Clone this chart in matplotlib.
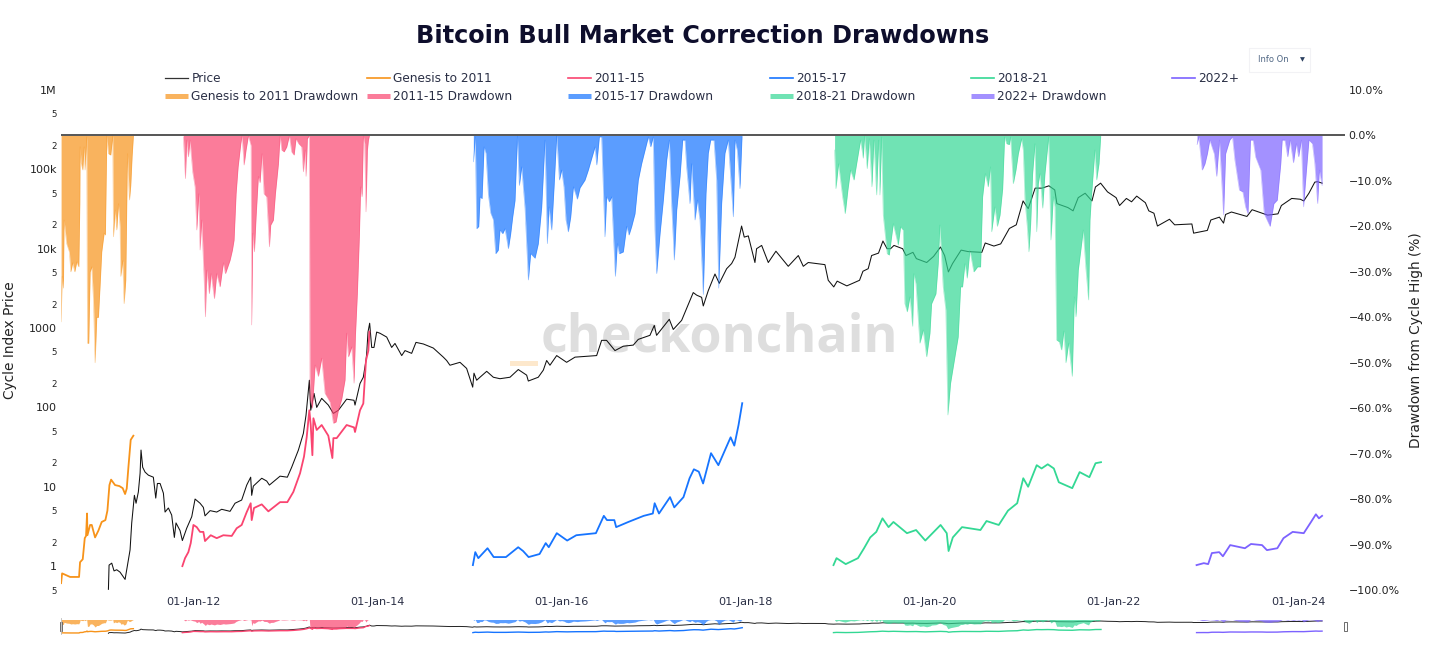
import matplotlib
matplotlib.use("Agg")
import matplotlib.pyplot as plt
from matplotlib.lines import Line2D
from matplotlib.patches import Rectangle

W, H = 1430, 672

# dates are decimal years, prices in index units, drawdowns in %
price_dates = [2011.081, 2011.088, 2011.117, 2011.142, 2011.171, 2011.207, 2011.262, 2011.298, 2011.316, 2011.334, 2011.363, 2011.381, 2011.406, 2011.425, 2011.435, 2011.453, 2011.479, 2011.515, 2011.569, 2011.595, 2011.613, 2011.642, 2011.678, 2011.696, 2011.732, 2011.768, 2011.797, 2011.815, 2011.859, 2011.884, 2011.931, 2011.986,
               2012.022, 2012.076, 2012.112, 2012.130, 2012.185, 2012.257, 2012.311, 2012.402, 2012.456, 2012.528, 2012.583, 2012.626, 2012.637, 2012.655, 2012.746, 2012.800, 2012.829, 2012.945,
               2013.024, 2013.071, 2013.144, 2013.198, 2013.227, 2013.263, 2013.278, 2013.314, 2013.343, 2013.397, 2013.469, 2013.524, 2013.578, 2013.668, 2013.748, 2013.759, 2013.813, 2013.849, 2013.878, 2013.886, 2013.900, 2013.918, 2013.940, 2013.965, 2013.994,
               2014.030, 2014.103, 2014.157, 2014.193, 2014.266, 2014.302, 2014.374, 2014.421, 2014.501, 2014.609, 2014.718, 2014.754, 2014.790, 2014.899, 2014.971,
               2015.037, 2015.051, 2015.080, 2015.116, 2015.189, 2015.261, 2015.333, 2015.442, 2015.532, 2015.623, 2015.641, 2015.749, 2015.804, 2015.840, 2015.876, 2015.949,
               2016.057, 2016.148, 2016.383, 2016.437, 2016.491, 2016.582, 2016.672, 2016.781, 2016.835, 2016.962,
               2017.009, 2017.034, 2017.172, 2017.215, 2017.306, 2017.360, 2017.432, 2017.469, 2017.523, 2017.541, 2017.595, 2017.668, 2017.715, 2017.795, 2017.849, 2017.885, 2017.957, 2017.986,
               2018.030, 2018.102, 2018.120, 2018.175, 2018.247, 2018.330, 2018.464, 2018.573, 2018.627, 2018.681, 2018.862, 2018.898, 2018.958, 2018.995,
               2019.100, 2019.238, 2019.275, 2019.332, 2019.369, 2019.444, 2019.492, 2019.537, 2019.575, 2019.612, 2019.706, 2019.743, 2019.818, 2019.855, 2019.967,
               2020.042, 2020.117, 2020.162, 2020.203, 2020.248, 2020.341, 2020.416, 2020.566, 2020.603, 2020.697, 2020.771, 2020.865, 2020.940,
               2021.014, 2021.070, 2021.145, 2021.220, 2021.295, 2021.358, 2021.381, 2021.501, 2021.557, 2021.613, 2021.688, 2021.762, 2021.800, 2021.856, 2021.931,
               2022.024, 2022.062, 2022.136, 2022.192, 2022.248, 2022.342, 2022.379, 2022.435, 2022.473, 2022.604, 2022.660, 2022.847, 2022.866,
               2023.015, 2023.053, 2023.146, 2023.191, 2023.213, 2023.277, 2023.445, 2023.501, 2023.670, 2023.782, 2023.819, 2023.931,
               2024.025, 2024.062, 2024.118, 2024.182, 2024.212, 2024.261]
price_values = [0.51, 1.03, 1.09, 0.87, 0.9, 0.84, 0.68, 1.19, 1.6, 3.5, 7.8, 6.2, 8.6, 14.8, 29, 17.6, 15.3, 14, 13.2, 7.2, 11, 11, 8.3, 4.8, 5.4, 4.4, 2.3, 3.5, 2.8, 2.1, 3, 4.2,
                7, 6.2, 5.5, 4.3, 5, 4.8, 5.2, 4.9, 6.2, 6.8, 10.5, 13.2, 7.8, 10.2, 12.8, 11.8, 10.5, 13.6,
                13.2, 17.6, 29, 47, 80, 220, 92, 150, 100, 130, 107, 84, 92, 127, 123, 107, 200, 240, 390, 480, 890, 1150, 570, 570, 890,
                860, 770, 570, 640, 450, 520, 480, 660, 630, 560, 430, 390, 340, 370, 310,
                180, 270, 220, 240, 285, 240, 230, 240, 300, 255, 215, 240, 295, 390, 340, 450,
                370, 430, 450, 700, 700, 520, 590, 610, 720, 810,
                1080, 810, 1290, 960, 1250, 1760, 2800, 2600, 2440, 1900, 2960, 4800, 3660, 5600, 6500, 7800, 19300, 14000,
                14500, 6700, 10000, 11000, 6700, 9300, 6000, 8200, 6000, 6700, 6300, 4000, 3300, 3900,
                3400, 4000, 5200, 5600, 8200, 8800, 12500, 10000, 10000, 11000, 10000, 8200, 9000, 7500, 6700,
                8000, 10500, 8200, 5100, 6500, 9600, 9200, 9000, 11800, 10800, 11500, 18000, 20000,
                40000, 32000, 58000, 58000, 62000, 55000, 37000, 33000, 30000, 44000, 50000, 40000, 60000, 67000, 52000,
                44000, 35000, 43000, 39000, 46000, 38000, 30000, 28000, 19300, 23500, 20000, 20500, 15700,
                17000, 23000, 25000, 21000, 27000, 29000, 25500, 31000, 26500, 27500, 35000, 43000,
                42000, 40000, 50000, 69000, 70000, 67000]

genesis_dates = [2010.567, 2010.578, 2010.610, 2010.665, 2010.762, 2010.773, 2010.802, 2010.824, 2010.838, 2010.849, 2010.853, 2010.882, 2010.900, 2010.936, 2010.972, 2011.008, 2011.048, 2011.070, 2011.092, 2011.110, 2011.153, 2011.200, 2011.236, 2011.262, 2011.280, 2011.298, 2011.323, 2011.352]
genesis_values = [0.61, 0.81, 0.78, 0.73, 0.73, 1.12, 1.22, 2.25, 2.4, 4.6, 2.45, 3.3, 3.3, 2.3, 2.8, 3.6, 3.8, 5, 10.5, 12.3, 10.5, 10.2, 9.6, 8.1, 9.5, 17.6, 39, 44]

c1115_dates = [2011.884, 2011.913, 2011.949, 2011.975, 2012.004, 2012.040, 2012.076, 2012.112, 2012.130, 2012.192, 2012.257, 2012.329, 2012.420, 2012.474, 2012.528, 2012.583, 2012.626, 2012.637, 2012.662, 2012.746, 2012.818, 2012.945, 2013.024, 2013.089, 2013.162, 2013.205, 2013.234, 2013.263, 2013.278, 2013.296, 2013.307, 2013.343, 2013.397, 2013.469, 2013.513, 2013.524, 2013.560, 2013.668, 2013.748, 2013.759, 2013.813, 2013.849, 2013.878, 2013.904, 2013.915]
c1115_values = [1, 1.26, 1.5, 1.95, 3.3, 3.1, 2.7, 2.7, 2.07, 2.45, 2.25, 2.45, 2.4, 3, 3.3, 4.8, 6.2, 3.8, 5.4, 6, 4.9, 6.4, 6.4, 8.6, 14.8, 24, 42, 92, 60, 25, 73, 52, 60, 44, 23, 41, 41, 60, 56, 49, 92, 112, 390, 520, 900]

c1517_dates = [2015.039, 2015.065, 2015.098, 2015.198, 2015.265, 2015.398, 2015.531, 2015.584, 2015.644, 2015.763, 2015.830, 2015.863, 2015.950, 2016.063, 2016.162, 2016.375, 2016.461, 2016.495, 2016.575, 2016.595, 2016.727, 2016.894, 2016.993, 2017.013, 2017.060, 2017.180, 2017.226, 2017.326, 2017.392, 2017.439, 2017.492, 2017.539, 2017.625, 2017.705, 2017.791, 2017.838, 2017.878, 2017.924, 2017.964]
c1517_values = [1.03, 1.5, 1.26, 1.68, 1.3, 1.3, 1.73, 1.55, 1.3, 1.42, 1.95, 1.73, 2.6, 2.1, 2.45, 2.6, 4.3, 3.8, 3.8, 3.1, 3.6, 4.3, 4.6, 6.2, 4.6, 7.4, 5.5, 7.4, 12.8, 16.6, 15.5, 11, 26.5, 18.7, 31.6, 42, 33, 60, 113]

c1821_dates = [2018.955, 2018.988, 2019.088, 2019.221, 2019.287, 2019.354, 2019.420, 2019.487, 2019.553, 2019.606, 2019.753, 2019.852, 2019.952, 2020.118, 2020.185, 2020.205, 2020.251, 2020.351, 2020.551, 2020.617, 2020.750, 2020.850, 2020.950, 2021.016, 2021.069, 2021.162, 2021.215, 2021.282, 2021.348, 2021.402, 2021.548, 2021.628, 2021.734, 2021.801, 2021.860]
c1821_values = [1.03, 1.26, 1.06, 1.26, 1.68, 2.3, 2.7, 4, 3.1, 3.6, 2.6, 2.85, 2.1, 3.3, 2.6, 1.55, 2.3, 3.1, 2.85, 3.7, 3.3, 5, 6.2, 12.8, 10, 18.7, 17, 19.2, 17, 11.4, 9.6, 15.3, 13.2, 19.8, 20.4]

c2022_dates = [2022.898, 2022.977, 2023.024, 2023.064, 2023.144, 2023.184, 2023.263, 2023.423, 2023.489, 2023.609, 2023.662, 2023.775, 2023.842, 2023.942, 2024.062, 2024.141, 2024.194, 2024.227, 2024.261]
c2022_values = [1.03, 1.09, 1.06, 1.46, 1.5, 1.33, 1.84, 1.68, 1.9, 1.84, 1.59, 1.68, 2.25, 2.7, 2.6, 3.6, 4.5, 4, 4.3]

dd_genesis_dates = [2010.567, 2010.578, 2010.592, 2010.599, 2010.628, 2010.657, 2010.672, 2010.693, 2010.715, 2010.737, 2010.759, 2010.770, 2010.773, 2010.784, 2010.802, 2010.817, 2010.827, 2010.845, 2010.853, 2010.867, 2010.882, 2010.900, 2010.918, 2010.936, 2010.954, 2010.972, 2010.990, 2011.008, 2011.034, 2011.048, 2011.063, 2011.081, 2011.106, 2011.128, 2011.135, 2011.153, 2011.171, 2011.189, 2011.207, 2011.215, 2011.236, 2011.251, 2011.269, 2011.287, 2011.309, 2011.323, 2011.338, 2011.352]
dd_genesis_values = [-41, -31, -33.6, -18.6, -23.8, -25.6, -30, -28, -30, -27.8, -28.9, -15, -2.5, -6, -7.6, -2.5, -7.6, -0.3, -45.7, -45.7, -30, -28.9, -36, -50, -40, -40, -33, -25.6, -21.5, -21.9, 0, -4, -4.3, 0, -22.3, -16.4, -20.8, -15, -20, -31, -27.5, -37, -31.8, -4, -14.2, -11, -4.5, 0]

dd_1115_dates = [2011.895, 2011.917, 2011.931, 2011.949, 2011.967, 2011.996, 2012.022, 2012.040, 2012.062, 2012.076, 2012.094, 2012.119, 2012.134, 2012.148, 2012.177, 2012.195, 2012.232, 2012.257, 2012.293, 2012.329, 2012.351, 2012.402, 2012.427, 2012.445, 2012.467, 2012.489, 2012.518, 2012.532, 2012.554, 2012.575, 2012.601, 2012.630, 2012.637, 2012.648, 2012.666, 2012.684, 2012.709, 2012.727, 2012.749, 2012.771, 2012.800, 2012.829, 2012.843, 2012.872, 2012.894, 2012.927, 2012.945, 2012.963, 2012.988,
                 2013.017, 2013.046, 2013.071, 2013.097, 2013.118, 2013.147, 2013.180, 2013.198, 2013.216, 2013.227, 2013.241, 2013.263, 2013.270, 2013.296, 2013.325, 2013.361, 2013.397, 2013.433, 2013.487, 2013.524, 2013.553, 2013.578, 2013.614, 2013.650, 2013.668, 2013.687, 2013.723, 2013.748, 2013.763, 2013.784, 2013.806, 2013.820, 2013.835, 2013.849, 2013.864, 2013.878, 2013.893, 2013.904, 2013.915]
dd_1115_values = [-0.3, -9.5, -1, -4.7, -1, -8, -11.3, -20.8, -12.8, -25.2, -18.6, -31, -39.9, -29.6, -34.8, -30.4, -35.9, -30.4, -33.3, -28, -30.4, -27.4, -25.2, -23, -12.8, -6.9, -1.8, 0, -6.5, -3.2, 0, -2.2, -41.7, -21.5, -25.6, -17.9, -9, -10.4, -4, -12.8, -13.5, -24.5, -19.7, -18.6, -12.8, -6.2, 0, -3.2, -3.6,
                  -2.5, 0, -3.6, -4.3, -0.7, -1.8, -2.5, -8, -3.2, -9, -0.7, 0, -58, -60, -50.5, -53, -49, -56.7, -58.6, -63.3, -63, -60.4, -58, -53.8, -43.5, -48.7, -46.5, -54.5, -44, -34.8, -22, -11.3, -13.5, 0, -1.8, -16.8, -3.2, -1, 0]

dd_1517_dates = [2015.044, 2015.065, 2015.080, 2015.102, 2015.116, 2015.138, 2015.160, 2015.181, 2015.207, 2015.232, 2015.261, 2015.286, 2015.315, 2015.333, 2015.362, 2015.388, 2015.424, 2015.449, 2015.471, 2015.496, 2015.522, 2015.543, 2015.569, 2015.605, 2015.641, 2015.666, 2015.713, 2015.749, 2015.786, 2015.822, 2015.847, 2015.865, 2015.894, 2015.920, 2015.949, 2015.978,
                 2016.003, 2016.028, 2016.050, 2016.075, 2016.101, 2016.130, 2016.173, 2016.202, 2016.256, 2016.292, 2016.329, 2016.365, 2016.383, 2016.412, 2016.437, 2016.473, 2016.491, 2016.520, 2016.546, 2016.586, 2016.607, 2016.629, 2016.672, 2016.709, 2016.734, 2016.763, 2016.799, 2016.835, 2016.871, 2016.908, 2016.944, 2016.969, 2016.998,
                 2017.016, 2017.034, 2017.071, 2017.107, 2017.143, 2017.172, 2017.197, 2017.226, 2017.252, 2017.288, 2017.317, 2017.342, 2017.360, 2017.396, 2017.414, 2017.451, 2017.476, 2017.505, 2017.541, 2017.570, 2017.595, 2017.621, 2017.657, 2017.686, 2017.708, 2017.740, 2017.776, 2017.812, 2017.867, 2017.885, 2017.910, 2017.939, 2017.961]
dd_1517_values = [-5.8, -0.3, -20.5, -20, -13.5, -13.9, -2.5, -3.9, -13, -17, -18.5, -26, -25.2, -20.8, -21.6, -20.5, -24.9, -21.6, -17.9, -14.3, 0, -11, -6.9, -16, -31.8, -26, -27, -23.8, -15.7, -1, -23.8, -15.7, -20.8, -11.3, 0, -9.8,
                  -7.6, -11.3, -18.6, -21.2, -17.9, -11.3, -14, -11.5, -9.8, -7.6, -5, -2.5, -6.5, -0.3, -0.3, -22.3, -13.5, -14.6, -13.5, -31, -23.8, -26, -25.6, -20, -21.9, -20, -17.2, -9.8, -6.2, -3.2, -0.3, -2.5, -0.3,
                  -20.8, -30.4, -21.6, -14.2, -5.4, -1, -14.9, -27.4, -16.4, -9, -1, -1, -6.9, -15, -6.2, -18.6, -14.2, -18.6, -35, -12.8, -3.9, -1, -1, -9.8, -33.6, -15, -3.9, -1, -17.9, -1, -3.2, -11.7, -0.3]

dd_1821_dates = [2018.967, 2018.981, 2019.010, 2019.054, 2019.082, 2019.111, 2019.140, 2019.177, 2019.206, 2019.249,
                 2019.278, 2019.292, 2019.321, 2019.343, 2019.372, 2019.394, 2019.423, 2019.444, 2019.459, 2019.477,
                 2019.495, 2019.538, 2019.560, 2019.604, 2019.658, 2019.683, 2019.712, 2019.730, 2019.756, 2019.785,
                 2019.814, 2019.828, 2019.850, 2019.893, 2019.929, 2019.966, 2020.002, 2020.020, 2020.067, 2020.092,
                 2020.110, 2020.146, 2020.175, 2020.197, 2020.226, 2020.273, 2020.309, 2020.335, 2020.356, 2020.382,
                 2020.407, 2020.436, 2020.479, 2020.519, 2020.552, 2020.574, 2020.603, 2020.635, 2020.660, 2020.672,
                 2020.708, 2020.734, 2020.763, 2020.792, 2020.813, 2020.835, 2020.864, 2020.878, 2020.907, 2020.936,
                 2020.962, 2020.998, 2021.016, 2021.034, 2021.059, 2021.077, 2021.096, 2021.117, 2021.143, 2021.161,
                 2021.179, 2021.197, 2021.226, 2021.251, 2021.277, 2021.291, 2021.316, 2021.342, 2021.360, 2021.378,
                 2021.407, 2021.432, 2021.457, 2021.479, 2021.508, 2021.548, 2021.570, 2021.588, 2021.613, 2021.638,
                 2021.667, 2021.696, 2021.725, 2021.740, 2021.758, 2021.794, 2021.812, 2021.838, 2021.856]
dd_1821_values = [-3.2, -11.7, -6.2, -13.5, -17.2, -12, -7.6, -9.8, -6.2, -1,
                  -5, 0, -7.3, -0.7, -11.3, -1, -13.1, -1, -13.1, -0.3,
                  -17.5, -26, -26.3, -19.4, -24.1, -20.1, -20.8, -37, -38.8, -35.5,
                  -42, -30.4, -32.6, -45.7, -42.8, -48.7, -43.5, -37, -34.8, -28.2,
                  -19.7, -33.3, -38.4, -61.5, -54.5, -48.7, -44.3, -33.3, -33.3, -28.2,
                  -31.4, -25.2, -30, -28.9, -28.9, -13.5, -8.4, -11.3, -6.9, -21.2,
                  -15.7, -20, -17.5, -11.7, -0.3, -1.8, -2, -0.3, -10.6, -7.6,
                  -4, -0.7, -3.2, -14.2, -20, -25.6, -19.4, -8.4, -1.8, -21.2,
                  -10.6, -8.4, -16, -8.4, -3.2, -0.3, -23, -13.5, -15.7, -45,
                  -45.4, -47.2, -43, -50, -45.7, -53, -35.5, -39.9, -29.6, -25.6,
                  -20.8, -29.3, -36.2, -18.6, -12.8, -3.2, -9.8, -6.2, -0.3]

dd_2022_dates = [2022.903, 2022.922, 2022.959, 2022.989, 2023.015, 2023.041, 2023.090, 2023.116, 2023.146, 2023.191, 2023.213, 2023.258, 2023.288, 2023.314, 2023.363, 2023.400, 2023.430, 2023.456, 2023.483, 2023.512, 2023.539, 2023.595, 2023.632, 2023.696, 2023.737, 2023.774, 2023.812, 2023.827, 2023.857, 2023.887, 2023.913, 2023.950, 2023.980, 2024.006, 2024.036, 2024.059, 2024.088, 2024.118, 2024.156, 2024.182, 2024.212, 2024.231, 2024.261]
dd_2022_values = [-2, -0.3, -7.6, -6.2, -4, -1, -4, -9, -1, -17.5, -4, -1, -0.3, -5.4, -12, -12.4, -15.7, -17.2, -1, -1, -4.7, -7.6, -17.2, -20, -15, -14.2, -6.2, -1, -1, -4.7, -1, -6, -1.8, -4.7, -1, -15.7, -8.3, -1, -1.8, -6.2, -15, -7.6, -11]

line_series = [("Genesis to 2011", genesis_dates, genesis_values, dd_genesis_dates, dd_genesis_values, "#F7931A"),
               ("2011-15", c1115_dates, c1115_values, dd_1115_dates, dd_1115_values, "#FA4470"),
               ("2015-17", c1517_dates, c1517_values, dd_1517_dates, dd_1517_values, "#1674FF"),
               ("2018-21", c1821_dates, c1821_values, dd_1821_dates, dd_1821_values, "#33D894"),
               ("2022+", c2022_dates, c2022_values, dd_2022_dates, dd_2022_values, "#7C62FF")]

price_ticks = [0.5, 1, 2, 5, 10, 20, 50, 100, 200, 500, 1000, 2000, 5000, 10000, 20000, 50000, 100000, 200000, 500000, 1000000]
price_labels = ["5", "1", "2", "5", "10", "2", "5", "100", "2", "5", "1000", "2", "5", "10k", "2", "5", "100k", "2", "5", "1M"]
dd_ticks = [10, 0, -10, -20, -30, -40, -50, -60, -70, -80, -90, -100]
dd_labels = ["10.0%", "0.0%", "\u221210.0%", "\u221220.0%", "\u221230.0%", "\u221240.0%", "\u221250.0%", "\u221260.0%", "\u221270.0%", "\u221280.0%", "\u221290.0%", "\u2212100.0%"]
date_ticks = [2012, 2014, 2016, 2018, 2020, 2022, 2024]
date_labels = ["01-Jan-12", "01-Jan-14", "01-Jan-16", "01-Jan-18", "01-Jan-20", "01-Jan-22", "01-Jan-24"]
x_range = (2010.566, 2024.51)


def fx(px):
    return px / W


def fy(py):
    return 1 - py / H


fig = plt.figure(figsize=(W / 100, H / 100), dpi=100, facecolor="white")

# watermark sits under everything, axes get a higher zorder below
fig.text(fx(719), fy(338), "checkonchain", family="Open Sans", weight="bold", fontsize=37.4,
         color="#DEDEDE", ha="center", va="center", zorder=0)
fig.add_artist(Rectangle((fx(510), fy(366)), 28 / W, 5 / H, transform=fig.transFigure, color="#FDE8CC", lw=0, zorder=0))

ax = fig.add_axes([fx(61), fy(590), 1284 / W, 500 / H], zorder=5)
ax.patch.set_visible(False)
ax.set_yscale("log")
ax.set_xlim(x_range)
ax.set_ylim(0.5, 1000000)
ax.plot(price_dates, price_values, color="#111111", lw=0.75)
for name, dates, values, dd_dates, dd_values, color in line_series:
    ax.plot(dates, values, color=color, lw=1.3)
ax.set_yticks(price_ticks, price_labels)
ax.minorticks_off()
ax.set_xticks(date_ticks, date_labels)
ax.tick_params(axis="x", length=0, pad=5, labelsize=8.1, labelcolor="#2A2F45")
ax.tick_params(axis="y", length=0, pad=3, labelcolor="#222222")
for lab in ax.get_yticklabels():
    if len(lab.get_text()) > 1 or lab.get_text() == "1":
        lab.set_fontsize(8)
    else:
        lab.set_fontsize(6.2)

for s in ax.spines.values():
    s.set_visible(False)

ax2 = ax.twinx()
ax2.set_zorder(6)
ax2.set_xlim(x_range)
ax2.set_ylim(-100, 10)
for name, dates, values, dd_dates, dd_values, color in line_series:
    ax2.fill_between(dd_dates, dd_values, 0, color=color, alpha=0.7, lw=0)
    ax2.plot(dd_dates, dd_values, color=color, lw=0.4, alpha=0.5)
ax2.axhline(0, color="#555555", lw=1.4)
ax2.set_yticks(dd_ticks, dd_labels)
ax2.tick_params(axis="y", length=0, pad=2.5, labelsize=7.9, labelcolor="#222222")
for s in ax2.spines.values():
    s.set_visible(False)

fig.text(fx(10), fy(340), "Cycle Index Price", rotation=90, fontsize=9.9, color="#222222", ha="center", va="center")
fig.text(fx(1416), fy(340), "Drawdown from Cycle High (%)", rotation=90, fontsize=9.9, color="#222222", ha="center", va="center")

fig.text(fx(703), fy(36), "Bitcoin Bull Market Correction Drawdowns", fontsize=17.3, weight="bold",
         color="#0E0E2C", ha="center", va="center")

# legend, laid out by hand because plotly fills rows unevenly
leg_x = [165, 367, 568, 770, 971, 1172]
fig.add_artist(Line2D([fx(165), fx(188)], [fy(78), fy(78)], color="#333333", lw=0.9))
fig.text(fx(192), fy(78), "Price", fontsize=8.7, color="#2A2F45", va="center")
for i, (name, dates, values, dd_dates, dd_values, color) in enumerate(line_series):
    fig.add_artist(Line2D([fx(leg_x[i + 1]), fx(leg_x[i + 1] + 23)], [fy(78), fy(78)], color=color, lw=1.2))
    fig.text(fx(leg_x[i + 1] + 26), fy(78), name, fontsize=8.7, color="#2A2F45", va="center")
    fig.add_artist(Line2D([fx(leg_x[i]), fx(leg_x[i] + 23)], [fy(96), fy(96)], color=color, lw=3.6, alpha=0.7, solid_capstyle="butt"))
    fig.text(fx(leg_x[i] + 26), fy(96), name + " Drawdown", fontsize=8.7, color="#2A2F45", va="center")

# Info On dropdown
fig.add_artist(Rectangle((fx(1249), fy(72)), 61 / W, 24 / H, transform=fig.transFigure, fc="white", ec="#F2F2F5", lw=0.8))
fig.text(fx(1258), fy(59.5), "Info On", fontsize=6, color="#506784", va="center")
fig.text(fx(1302), fy(59.5), "\u25BC", fontsize=4.6, color="#2A3F5F", ha="center", va="center")

# range slider strip under the chart
sl = fig.add_axes([fx(61), fy(636), 1284 / W, 18 / H])
sl.patch.set_visible(False)
sl.set_yscale("log")
sl.set_xlim(x_range)
sl.set_ylim(0.04, 1200000)
sl.plot(price_dates, price_values, color="#222222", lw=0.7)
for name, dates, values, dd_dates, dd_values, color in line_series:
    sl.plot(dates, values, color=color, lw=1.0)
sl.axis("off")
sl2 = sl.twinx()
sl2.set_xlim(x_range)
sl2.set_ylim(-110, 10)
for name, dates, values, dd_dates, dd_values, color in line_series:
    sl2.fill_between(dd_dates, dd_values, 0, color=color, alpha=0.7, lw=0)
sl2.axis("off")
fig.add_artist(Line2D([fx(61), fx(61)], [fy(618), fy(634)], color="#BBBBBB", lw=0.6))
for hx in (61, 1345):
    fig.add_artist(Rectangle((fx(hx - 1.5), fy(631)), 3 / W, 9 / H, transform=fig.transFigure, fc="white", ec="#555555", lw=0.6))

fig.savefig("out.png", dpi=100)
